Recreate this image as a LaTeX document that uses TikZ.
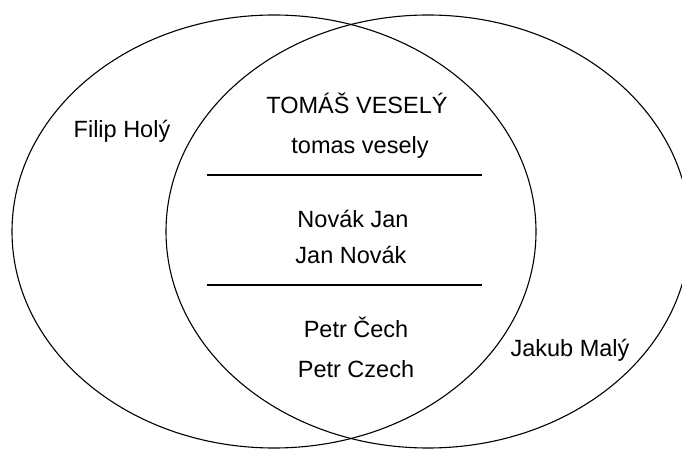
\documentclass[tikz,border=0pt]{standalone}
\usepackage{fontspec}
\setmainfont{Liberation Sans}
\usetikzlibrary{calc}

\begin{document}
\begin{tikzpicture} [x=1pt, y=-1pt, line width=1.1pt,
  person/.style={anchor=base, inner sep=0pt, font=\fontsize{23.5}{28}\selectfont}]
\useasboundingbox (0,0) rectangle (682,449);
\clip (0,0) rectangle (682,449);
\coordinate (L) at (274,231.5);
\coordinate (R) at (428,231.5);
\draw (L) ellipse [x radius=262, y radius=216.5];
\draw (R) ellipse [x radius=262, y radius=216.5];
\foreach \y in {175,285} {
 \draw[line width=1.3pt] (207,\y) -- (482,\y);
}
\node[person] (filip) at (122,138) {Filip Holý};
\node[person] (jakub) at (570,356) {Jakub Malý};
\node[person] (tomas1) at (357,114) {TOMÁŠ VESELÝ};
\node[person] (tomas2) at (360,154) {tomas vesely};
\node[person] (jan1) at (353,227) {Novák Jan};
\node[person] (jan2) at (351,263) {Jan Novák};
\node[person] (petr1) at (356,337) {Petr Čech};
\node[person] (petr2) at (356,377) {Petr Czech};
\end{tikzpicture}
\end{document}
